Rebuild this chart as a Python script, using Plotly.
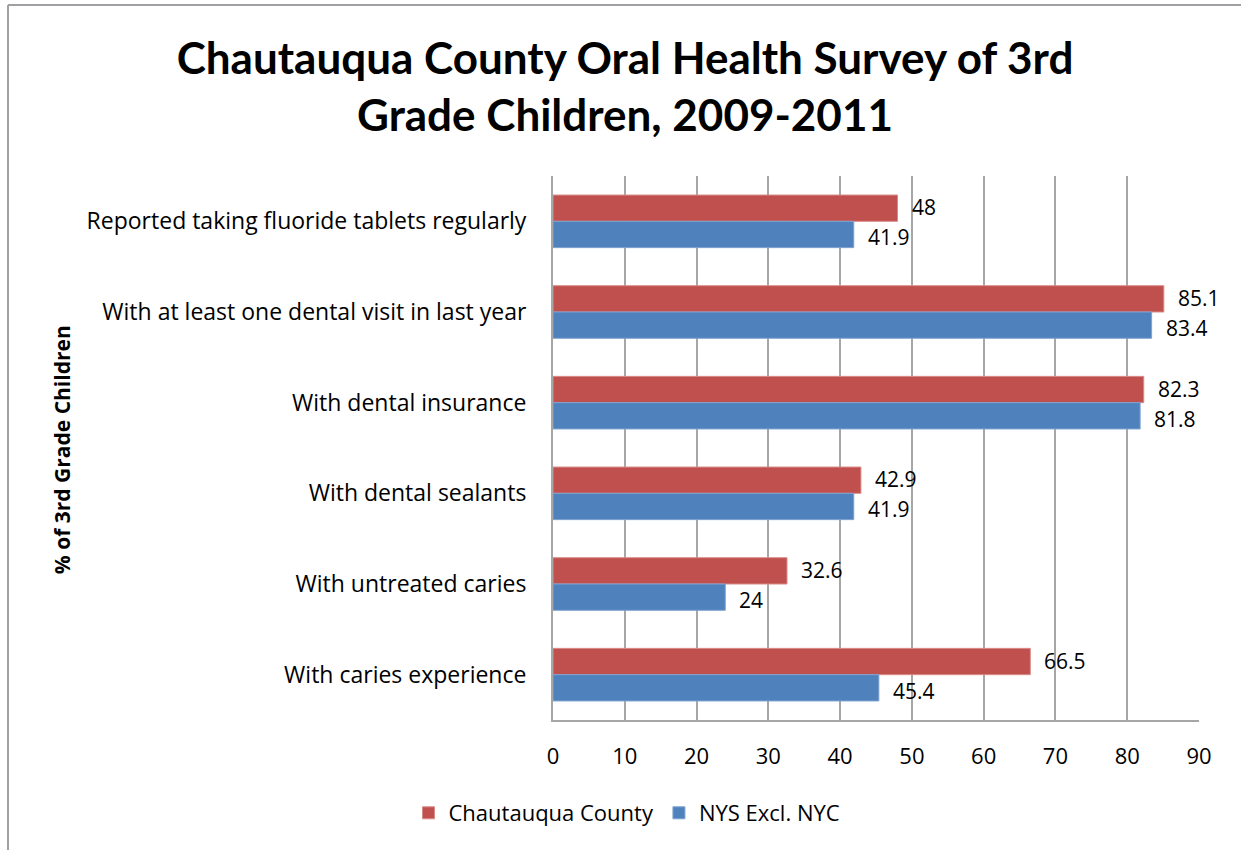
import plotly.graph_objects as go

categories = [
    "Reported taking fluoride tablets regularly",
    "With at least one dental visit in last year",
    "With dental insurance",
    "With dental sealants",
    "With untreated caries",
    "With caries experience",
]
chautauqua = [48, 85.1, 82.3, 42.9, 32.6, 66.5]
nys = [41.9, 83.4, 81.8, 41.9, 24, 45.4]
series_names = ["Chautauqua County", "NYS Excl. NYC"]
colors = ["#C0504D", "#4F81BD"]
x_ticks = [0, 10, 20, 30, 40, 50, 60, 70, 80, 90]

TITLE_FONT = "Lato"
FONT = "Open Sans"
n = len(categories)
ypos = [n - 1 - i for i in range(n)]
bw = 0.29

fig = go.Figure()
fig.add_trace(go.Bar(
    x=chautauqua, y=ypos, orientation="h", name=series_names[0],
    marker=dict(color=colors[0], line=dict(width=1, color="#D98B89")),
    width=bw, offset=0,
))
fig.add_trace(go.Bar(
    x=nys, y=ypos, orientation="h", name=series_names[1],
    marker=dict(color=colors[1], line=dict(width=1, color="#7FA3D1")),
    width=bw, offset=-bw,
))

annotations = []
for vals, sgn, ysh in ((chautauqua, 1, 1), (nys, -1, -3)):
    for v, yp in zip(vals, ypos):
        annotations.append(dict(
            x=v, y=yp + sgn * bw / 2, xref="x", yref="y",
            text=f"{v:g}", showarrow=False, xanchor="left", yanchor="middle",
            xshift=13, yshift=ysh, borderpad=0,
            font=dict(family=FONT, size=21, color="#000000"),
        ))

annotations.append(dict(
    x=(62 - 553) / 646, y=0.496, xref="paper", yref="paper",
    text="<b>% of 3rd Grade Children</b>",
    textangle=-90, showarrow=False, xanchor="center", yanchor="middle",
    font=dict(family=FONT, size=21, color="#000000"),
))

fig.update_layout(
    width=1241, height=850,
    margin=dict(l=553, r=42, t=176, b=130),
    paper_bgcolor="white", plot_bgcolor="white",
    title=dict(
        text="<b>Chautauqua County Oral Health Survey of 3rd<br>Grade Children, 2009-2011</b>",
        x=625 / 1241, xref="container", xanchor="center",
        y=(850 - 74) / 850, yref="container", yanchor="middle",
        font=dict(family=TITLE_FONT, size=44, color="#000000"),
    ),
    barmode="overlay",
    xaxis=dict(
        range=[0, 90], tickvals=x_ticks, ticktext=[str(t) for t in x_ticks],
        showgrid=True, gridcolor="#A6A6A6", gridwidth=2,
        showline=True, linecolor="#A6A6A6", linewidth=2,
        zeroline=False, ticks="", ticklabelstandoff=16,
        tickfont=dict(family=FONT, size=22, color="#000000"),
    ),
    yaxis=dict(
        range=[-0.5, n - 0.5], tickvals=ypos, ticktext=categories,
        showgrid=False, showline=True, linecolor="#A6A6A6", linewidth=2,
        zeroline=False, ticks="", ticklabelstandoff=20,
        tickfont=dict(family=FONT, size=23, color="#000000"),
    ),
    legend=dict(
        orientation="h", x=(627 - 553) / 646, xanchor="center",
        y=(720 - 813) / 544, yanchor="middle",
        font=dict(family=FONT, size=22, color="#000000"),
        traceorder="normal",
    ),
    annotations=annotations,
    shapes=[
        dict(type="line", xref="paper", yref="paper",
             x0=(8 - 553) / 646, x1=(1241 - 553) / 646,
             y0=(720 - 5) / 544, y1=(720 - 5) / 544,
             line=dict(color="#A0A0A4", width=2)),
        dict(type="line", xref="paper", yref="paper",
             x0=(8 - 553) / 646, x1=(8 - 553) / 646,
             y0=(720 - 5) / 544, y1=(720 - 850) / 544,
             line=dict(color="#A0A0A4", width=2)),
    ],
)

fig.write_html(
    "out.html",
    config={"displayModeBar": False},
    post_script="document.body.style.margin='0';document.body.style.overflow='hidden';",
)
